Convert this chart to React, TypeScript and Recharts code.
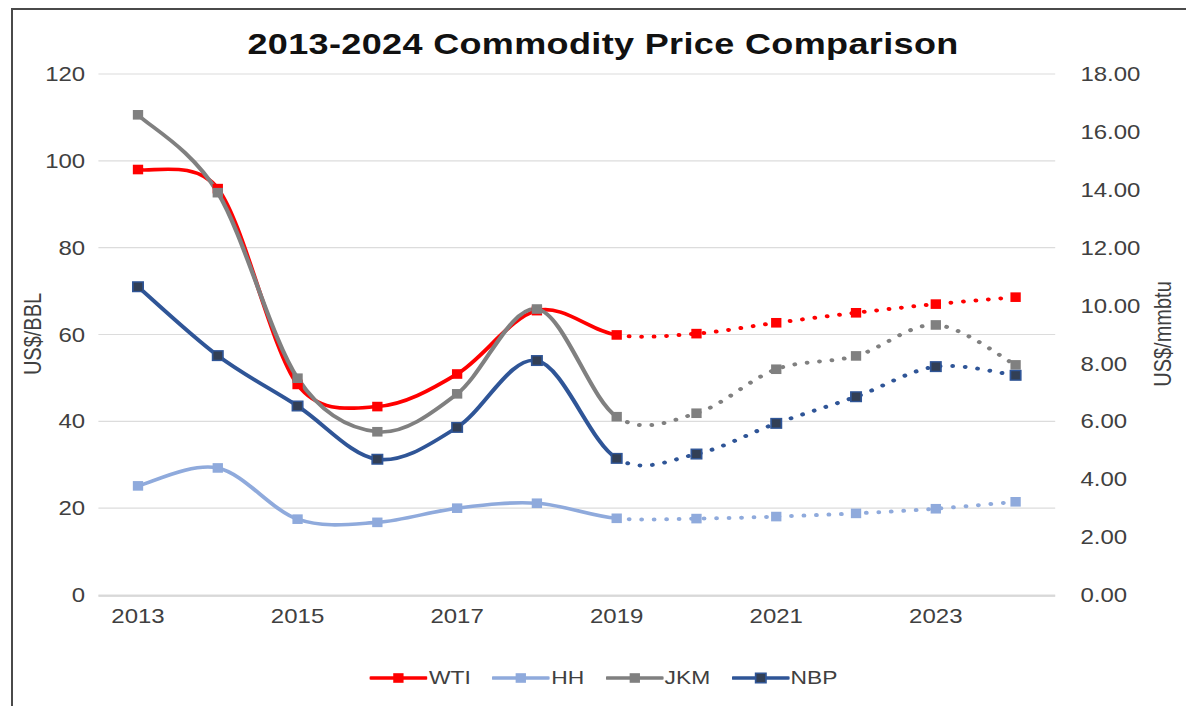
import React from "react";
import { CartesianGrid, Legend, Line, LineChart, XAxis, YAxis } from "recharts";

const years = ["2013", "2014", "2015", "2016", "2017", "2018", "2019", "2020", "2021", "2022", "2023", "2024"];
const wti = [98.0, 93.6, 48.5, 43.4, 50.9, 65.5, 59.9, 60.2, 62.7, 65.0, 67.0, 68.6];
const hh = [3.77, 4.39, 2.62, 2.51, 3.0, 3.17, 2.65, 2.64, 2.71, 2.82, 2.98, 3.22];
const jkm = [16.59, 13.9, 7.49, 5.64, 6.95, 9.88, 6.16, 6.28, 7.8, 8.26, 9.33, 7.95];
const nbp = [10.65, 8.27, 6.53, 4.69, 5.79, 8.1, 4.72, 4.87, 5.93, 6.85, 7.89, 7.59];
const bblTicks = [0, 20, 40, 60, 80, 100, 120];
const mmbtuTicks = [0, 2, 4, 6, 8, 10, 12, 14, 16, 18];
const bandEdges = [0, 1, 2, 3, 4, 5, 6, 7, 8, 9, 10, 11, 12];

// first year that is drawn as a forecast (dotted)
const FORECAST_FROM = years.indexOf("2019");

const data = years.map((year, i) => ({ year, wti: wti[i], hh: hh[i], jkm: jkm[i], nbp: nbp[i] }));

const series = [
  { key: "wti", name: "WTI", color: "#FF0000", fill: "#FF0000", axis: "bbl" },
  { key: "hh", name: "HH", color: "#8FAADC", fill: "#8FAADC", axis: "mmbtu" },
  { key: "jkm", name: "JKM", color: "#808080", fill: "#808080", axis: "mmbtu" },
  { key: "nbp", name: "NBP", color: "#2F5597", fill: "#323F55", axis: "mmbtu" },
];

// the source picture is stretched sideways, so the whole chart is drawn narrow and scaled
const STRETCH = 1.2;
const W = 1186 / STRETCH;
const H = 706;
const FONT = '"Liberation Sans", Arial, sans-serif';
const TEXT = "#404040";

const dist = (a: number[], b: number[]) => Math.hypot(b[0] - a[0], b[1] - a[1]);

// Excel-like smoothed line over all points, but only drawing segments [from, to).
// Control arms are 1/6 of the neighbour chord, capped at half the adjacent segment.
function smoothPart(from: number, to: number) {
  return (context: any) => {
    let pts: number[][] = [];
    const arm = (i: number, side: 1 | -1) => {
      const n = pts.length;
      const prev = pts[Math.max(i - 1, 0)];
      const next = pts[Math.min(i + 1, n - 1)];
      const tx = (next[0] - prev[0]) / 6;
      const ty = (next[1] - prev[1]) / 6;
      const len = Math.hypot(tx, ty);
      const seg = side > 0 ? dist(pts[i], next) : dist(prev, pts[i]);
      const k = len > seg / 2 && len > 0 ? seg / 2 / len : 1;
      return [pts[i][0] + side * tx * k, pts[i][1] + side * ty * k];
    };
    return {
      areaStart() {},
      areaEnd() {},
      lineStart() {
        pts = [];
      },
      point(x: number, y: number) {
        pts.push([+x, +y]);
      },
      lineEnd() {
        const end = Math.min(to, pts.length - 1);
        if (from >= end) return;
        context.moveTo(pts[from][0], pts[from][1]);
        for (let i = from; i < end; i++) {
          const c1 = arm(i, 1);
          const c2 = arm(i + 1, -1);
          context.bezierCurveTo(c1[0], c1[1], c2[0], c2[1], pts[i + 1][0], pts[i + 1][1]);
        }
      },
    };
  };
}

const actualCurve = smoothPart(0, FORECAST_FROM);
const forecastCurve = smoothPart(FORECAST_FROM, years.length - 1);

function squareDot(fill: string, stroke: string, id: string) {
  return (props: any) => {
    const { cx, cy, index } = props;
    if (cx == null || cy == null) return <g key={`${id}-${index}`} />;
    return (
      <rect
        key={`${id}-${index}`}
        x={cx - 4.3}
        y={cy - 4.8}
        width={8.6}
        height={9.6}
        fill={fill}
        stroke={stroke}
        strokeWidth={fill === stroke ? 0 : 1.4}
      />
    );
  };
}

function LegendRow() {
  return (
    <div
      style={{
        display: "flex",
        justifyContent: "center",
        alignItems: "center",
        gap: 18,
        paddingLeft: 18,
        fontFamily: FONT,
        fontSize: 19,
        color: TEXT,
      }}
    >
      {series.map((s) => (
        <div key={s.key} style={{ display: "flex", alignItems: "center" }}>
          <svg width={48} height={14}>
            <line x1={1} y1={7} x2={47} y2={7} stroke={s.color} strokeWidth={3.5} strokeLinecap="round" />
            <rect x={19.7} y={2.2} width={8.6} height={9.6} fill={s.fill} stroke={s.color} strokeWidth={s.fill === s.color ? 0 : 1.4} />
          </svg>
          <span style={{ marginLeft: 1 }}>{s.name}</span>
        </div>
      ))}
    </div>
  );
}

function AxisTitle({ x, text }: { x: number; text: string }) {
  return (
    <text
      x={x}
      y={334}
      transform={`rotate(-90 ${x} 334)`}
      textAnchor="middle"
      dominantBaseline="central"
      fill={TEXT}
      fontSize={20}
      fontFamily={FONT}
    >
      {text}
    </text>
  );
}

export default function App() {
  const tickStyle = { fill: TEXT, fontSize: 20, fontFamily: FONT };
  return (
    <div style={{ position: "absolute", left: 0, top: 0, width: 1186, height: H, overflow: "hidden", background: "#fff" }}>
      <div
        style={{
          position: "absolute",
          left: 11,
          top: 8,
          width: 1186,
          height: H,
          borderTop: "2px solid #4a4a4a",
          borderLeft: "2px solid #4a4a4a",
        }}
      />
      <div style={{ position: "absolute", left: 0, top: 0, width: W, height: H, transform: `scaleX(${STRETCH})`, transformOrigin: "0 0" }}>
        <div
          style={{
            position: "absolute",
            left: 0,
            top: 27,
            width: 1005,
            textAlign: "center",
            fontFamily: FONT,
            fontWeight: 700,
            fontSize: 30,
            letterSpacing: 0.3,
            lineHeight: "34px",
            color: "#111",
          }}
        >
          2013-2024 Commodity Price Comparison
        </div>
        <LineChart width={W} height={H} data={data} margin={{ top: 74, right: 10, bottom: 109, left: 10 }}>
          <CartesianGrid yAxisId="bbl" xAxisId="cat" vertical={false} stroke="#DCDCDC" strokeWidth={1.2} />
          {/* both bottom axes are 1px tall so they sit on the same baseline whatever their stacking order */}
          <XAxis
            xAxisId="edges"
            type="number"
            domain={[0, 12]}
            ticks={bandEdges}
            tick={false}
            height={1}
            tickSize={5}
            stroke="#D0D0D0"
            strokeWidth={1.3}
          />
          <XAxis
            xAxisId="cat"
            dataKey="year"
            type="category"
            interval={1}
            height={1}
            padding={{ left: 33, right: 33 }}
            axisLine={false}
            tickLine={false}
            tickSize={0}
            tickMargin={14}
            tick={tickStyle}
          />
          <YAxis
            yAxisId="bbl"
            orientation="left"
            width={72}
            domain={[0, 120]}
            ticks={bblTicks}
            axisLine={false}
            tickLine={false}
            tickSize={0}
            tickMargin={11}
            tick={tickStyle}
            label={{ content: () => <AxisTitle x={27.5} text="US$/BBL" /> }}
          />
          <YAxis
            yAxisId="mmbtu"
            orientation="right"
            width={99}
            domain={[0, 18]}
            ticks={mmbtuTicks}
            tickFormatter={(v: number) => v.toFixed(2)}
            axisLine={false}
            tickLine={false}
            tickSize={0}
            tickMargin={21}
            tick={{ ...tickStyle, textAnchor: "start" }}
            label={{ content: () => <AxisTitle x={969} text="US$/mmbtu" /> }}
          />
          {series.map((s) => [
            <Line
              key={`${s.key}-actual`}
              xAxisId="cat"
              yAxisId={s.axis}
              dataKey={s.key}
              name={s.name}
              type={actualCurve as any}
              stroke={s.color}
              strokeWidth={3.6}
              dot={false}
              activeDot={false}
              isAnimationActive={false}
            />,
            <Line
              key={`${s.key}-forecast`}
              xAxisId="cat"
              yAxisId={s.axis}
              dataKey={s.key}
              name={`${s.name} forecast`}
              type={forecastCurve as any}
              stroke={s.color}
              strokeWidth={4}
              strokeDasharray="0.01 10.4"
              strokeLinecap="round"
              dot={squareDot(s.fill, s.color, s.key)}
              activeDot={false}
              legendType="none"
              isAnimationActive={false}
            />,
          ])}
          <Legend
            content={() => <LegendRow />}
            wrapperStyle={{ position: "absolute", top: 667, left: 0, width: W, height: 0, overflow: "visible" }}
          />
        </LineChart>
      </div>
    </div>
  );
}
